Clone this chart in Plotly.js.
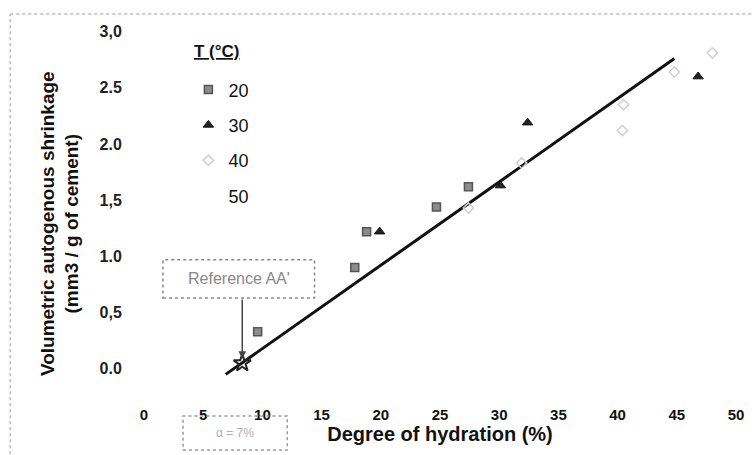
<!DOCTYPE html>
<html><head><meta charset="utf-8">
<script src="https://cdn.plot.ly/plotly-3.0.1.min.js"></script>
<style>html,body{margin:0;padding:0;background:#fff}#c{width:754px;height:455px}</style>
</head><body><div id="c"></div>
<script>
// Data
const x20 = [9.6, 17.8, 18.8, 24.7, 27.4];
const y20 = [0.33, 0.90, 1.22, 1.44, 1.62];
const x30 = [19.9, 30.1, 32.4, 46.8];
const y30 = [1.22, 1.63, 2.19, 2.60];
const x40 = [27.4, 31.9, 40.4, 40.5, 44.8, 48.0];
const y40 = [1.43, 1.83, 2.12, 2.35, 2.64, 2.81];
const x50 = [null];
const y50 = [null];
const fitX = [6.9, 44.8];
const fitY = [-0.05, 2.76];
const refX = [8.3];
const refY = [0.05];
const xTicks = [0, 5, 10, 15, 20, 25, 30, 35, 40, 45, 50];
const yTicks = [0, 0.5, 1, 1.5, 2, 2.5, 3];
const yTickText = ['0.0', '0,5', '1.0', '1,5', '2.0', '2.5', '3,0'];

const F = 'Liberation Sans, Arial, sans-serif';
const traces = [
  {x: fitX, y: fitY, mode: 'lines', line: {color: '#111', width: 3}, showlegend: false, hoverinfo: 'skip'},
  {x: x20, y: y20, mode: 'markers', name: '20', legendgroup: 'a',
   marker: {symbol: 'square', size: 8, color: '#8c8c8c', line: {color: '#555', width: 1.5}}},
  {x: x30, y: y30, mode: 'markers', name: '30', legendgroup: 'b',
   marker: {symbol: 'triangle-up', size: 9, color: '#222', line: {color: '#111', width: 1}}},
  {x: x40, y: y40, mode: 'markers', name: '40', legendgroup: 'c',
   marker: {symbol: 'diamond-open', size: 8, color: '#d0d0d0', line: {width: 1.5}}},
  {x: x50, y: y50, mode: 'markers', name: '50', legendgroup: 'd',
   marker: {symbol: 'circle', size: 8, color: '#ffffff'}},
  {x: refX, y: refY, mode: 'markers', showlegend: false,
   marker: {symbol: 'star-open', size: 13, color: '#222', line: {width: 2}}}
];

const layout = {
  width: 754, height: 455,
  margin: {l: 144, r: 18, t: 26, b: 75},
  paper_bgcolor: '#fff', plot_bgcolor: '#fff',
  font: {family: F, color: '#111'},
  xaxis: {range: [0, 50], tickvals: xTicks, showgrid: false, zeroline: false, showline: false,
    ticks: 'outside', ticklen: 21, tickcolor: 'rgba(0,0,0,0)',
    tickfont: {size: 15, family: F, color: '#111', weight: 'bold'},
    title: {text: '<b>Degree of hydration (%)</b>', font: {size: 20, family: F, color: '#111'}, standoff: 4}},
  yaxis: {range: [-0.1, 3.05], tickvals: yTicks, ticktext: yTickText, showgrid: false, zeroline: false, showline: false,
    ticks: 'outside', ticklen: 18, tickcolor: 'rgba(0,0,0,0)',
    tickfont: {size: 16, family: F, color: '#222', weight: 'bold'}},
  legend: {x: 0.075, y: 0.872, xanchor: 'left', yanchor: 'top', bgcolor: 'rgba(255,255,255,0)',
    font: {size: 18, family: F, color: '#111'}, traceorder: 'grouped', tracegroupgap: 9,
    itemwidth: 30},
  annotations: [
    {x: -0.142, y: 0.443, xref: 'paper', yref: 'paper', xanchor: 'center', yanchor: 'middle', textangle: -90, showarrow: false,
     text: '<b>Volumetric autogenous shrinkage<br>(mm3 / g of cement)</b>', font: {size: 19, family: F, color: '#111'}},
    {x: 0.124, y: 0.927, xref: 'paper', yref: 'paper', xanchor: 'center', yanchor: 'middle', showarrow: false,
     text: '<b><u>T (°C)</u></b>', font: {size: 17, family: F, color: '#111'}},
    {x: refX[0], y: refY[0] + 0.04, xref: 'x', yref: 'y', axref: 'x', ayref: 'y', ax: refX[0], ay: 0.63,
     showarrow: true, arrowhead: 2, arrowsize: 1, arrowwidth: 1.5, arrowcolor: '#444', text: ''},
    {x: 8.0, y: 0.80, xref: 'x', yref: 'y', text: "Reference AA'", showarrow: false,
     font: {size: 16, family: F, color: '#888'}},
    {x: 7.7, y: -0.15, xref: 'x', yref: 'paper', xanchor: 'center', yanchor: 'middle', text: 'α = 7%', showarrow: false,
     font: {size: 12, family: F, color: '#b0b0b0'}}
  ],
  shapes: [
    {type: 'rect', xref: 'x', yref: 'y', x0: 1.6, x1: 14.4, y0: 0.63, y1: 0.97, line: {color: '#888', width: 1.5, dash: 'dot'}},
    {type: 'rect', xref: 'x', yref: 'paper', x0: 3.3, x1: 12.1, y0: -0.198, y1: -0.102, line: {color: '#999', width: 1.5, dash: 'dot'}},
    {type: 'line', xref: 'paper', yref: 'paper', x0: -0.226, x1: -0.226, y0: -0.21, y1: 1.034, line: {color: '#bbb', width: 1.5, dash: 'dot'}},
    {type: 'line', xref: 'paper', yref: 'paper', x0: -0.226, x1: 1.03, y0: 1.034, y1: 1.034, line: {color: '#bbb', width: 1.5, dash: 'dot'}}
  ]
};
Plotly.newPlot('c', traces, layout, {displayModeBar: false, staticPlot: true});
</script></body></html>
